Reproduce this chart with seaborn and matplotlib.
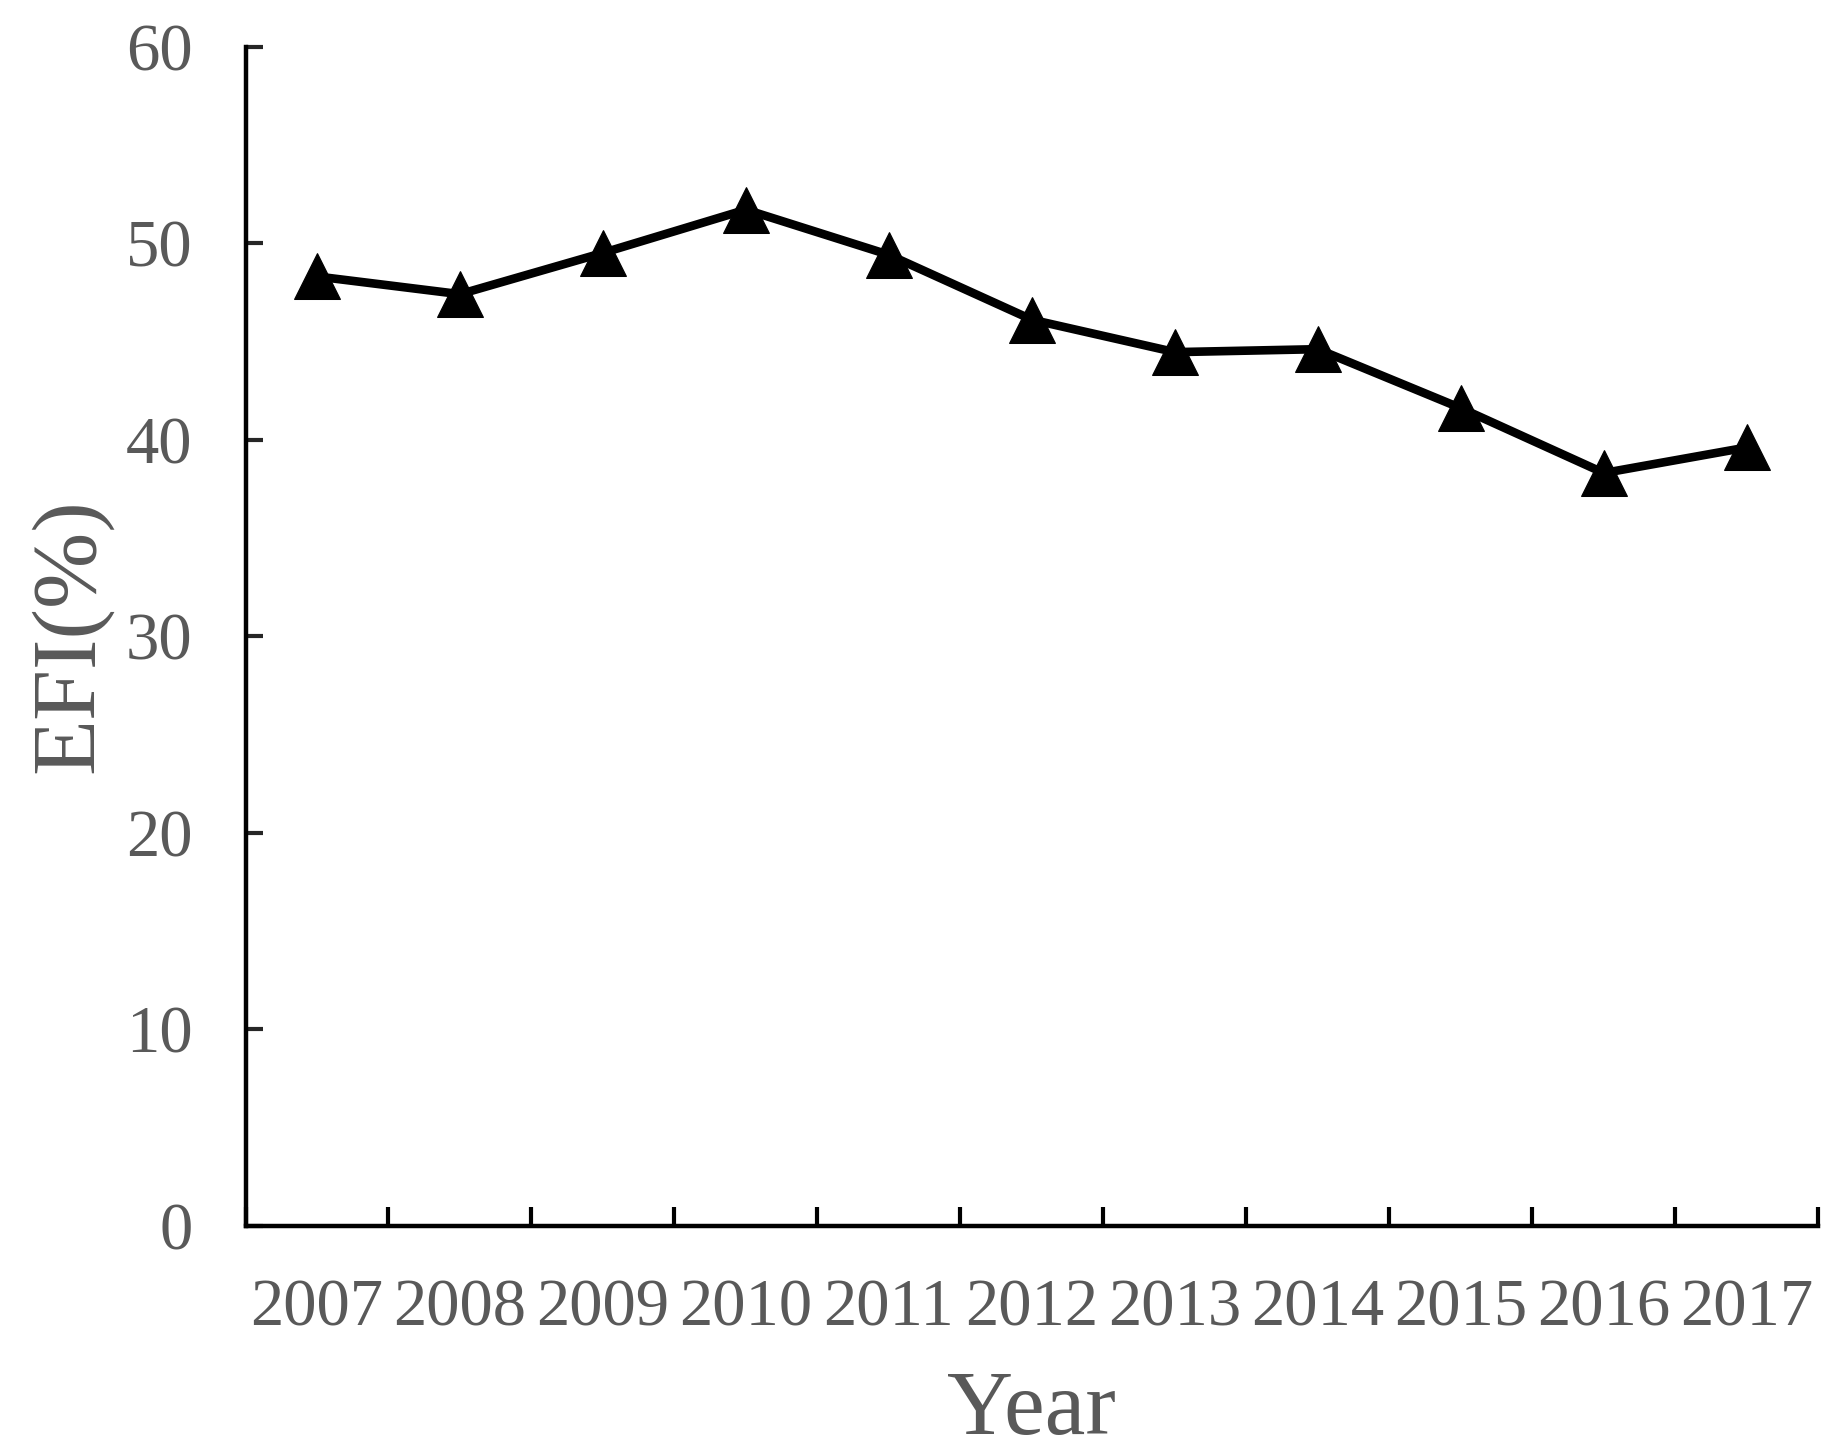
import numpy as np
import pandas as pd
import seaborn as sns
from matplotlib import pyplot as plt
from matplotlib.ticker import FixedLocator

sns.set_style('white')
plt.rcParams['font.family'] = ['Liberation Serif', 'DejaVu Serif']

# data
years = ['2007', '2008', '2009', '2010', '2011', '2012', '2013', '2014', '2015', '2016', '2017']
efi = [48.3, 47.4, 49.5, 51.7, 49.4, 46.1, 44.45, 44.6, 41.6, 38.3, 39.6]
yticks = [0, 10, 20, 30, 40, 50, 60]

df = pd.DataFrame({'Year': years, 'EFI': efi})
grey = '#595959'

fig = plt.figure(figsize=(18.46, 14.54), dpi=100)
ax = fig.add_axes([0.133, 0.157, 0.852, 0.811])

sns.lineplot(data=df, x='Year', y='EFI', ax=ax, color='black', linewidth=6.2,
             marker='^', markersize=33, markeredgecolor='black', sort=False)
for ln in ax.lines:
    ln.set_linewidth(6.2)

ax.set_xlim(-0.5, len(years) - 0.5)
ax.set_ylim(0, 60)
ax.set_yticks(yticks)
ax.set_yticklabels([str(t) for t in yticks])

# labels centred on categories, tick marks on the boundaries
ax.xaxis.set_major_locator(FixedLocator(np.arange(len(years))))
ax.set_xticklabels(years)
ax.xaxis.set_minor_locator(FixedLocator(np.arange(len(years) + 1) - 0.5))
ax.tick_params(axis='x', which='major', length=0, pad=38, labelsize=48, labelcolor=grey)
ax.tick_params(axis='x', which='minor', direction='in', length=14, width=3, color='black', bottom=True)
ax.tick_params(axis='y', direction='in', length=12, width=3, pad=38, labelsize=48,
               labelcolor=grey, left=True)

sns.despine(ax=ax)
for s in ['left', 'bottom']:
    ax.spines[s].set_linewidth(3.2)
    ax.spines[s].set_color('black')

ax.set_xlabel('Year', fontsize=66, color=grey, labelpad=22)
ax.set_ylabel('EFI(%)', fontsize=66, color=grey, labelpad=10)

fig.savefig('out.png', dpi=100)
